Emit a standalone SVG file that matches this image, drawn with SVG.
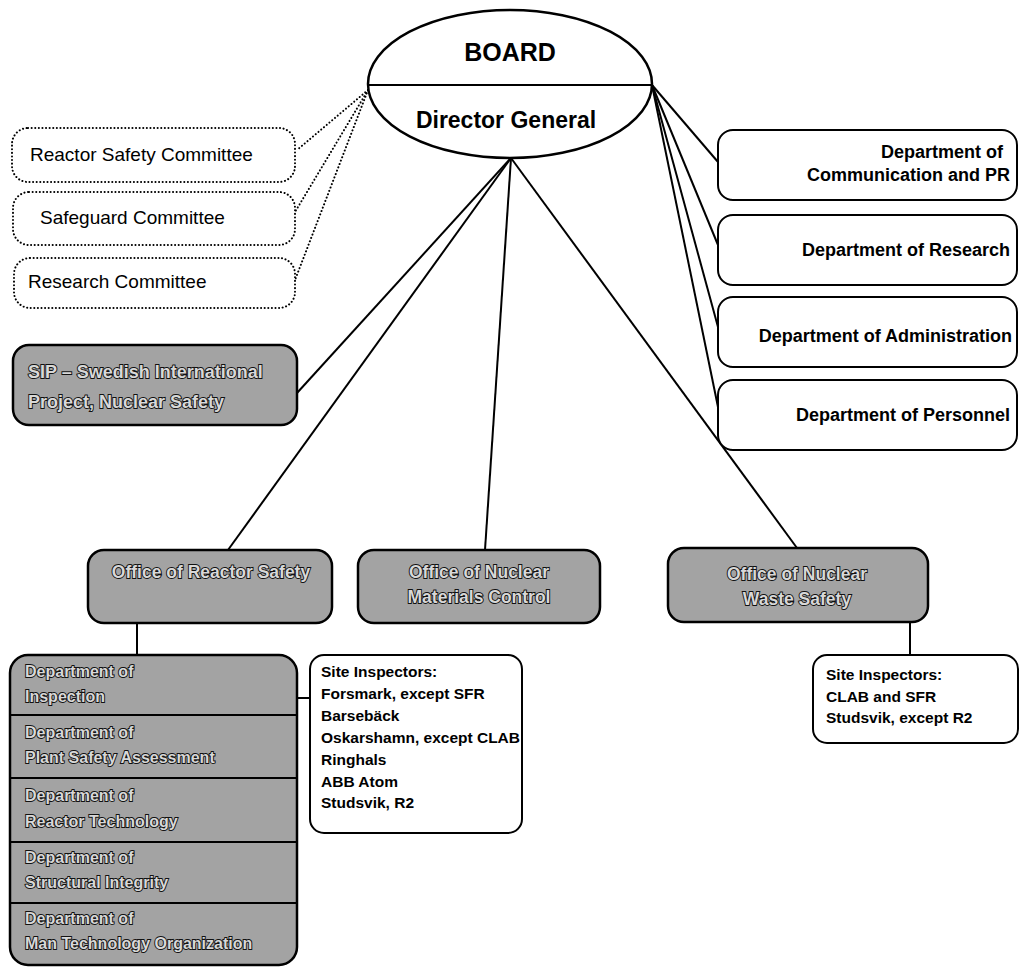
<svg xmlns="http://www.w3.org/2000/svg" width="1020" height="970" viewBox="0 0 1020 970">
<style>
.bg{fill:#ffffff}
.box{fill:#ffffff;stroke:#000;stroke-width:2}
.dot{fill:#ffffff;stroke:#000;stroke-width:2;stroke-dasharray:0.1 3.5;stroke-linecap:round}
.gray{fill:#a3a3a3;stroke:#000;stroke-width:2.5}
.ln{stroke:#000;stroke-width:2;fill:none}
.dl{stroke:#000;stroke-width:2;fill:none;stroke-dasharray:0.1 3.5;stroke-linecap:round}
.t{font-family:"Liberation Sans",Arial,sans-serif;fill:#000}
.b{font-weight:bold}
.r{font-size:19px}
.m{font-size:18px;font-weight:bold}
.s{font-size:15.5px;font-weight:bold}
.g{font-family:"Liberation Sans",Arial,sans-serif;font-weight:bold;fill:#d8d8d8;stroke:#111;stroke-width:1.8;paint-order:stroke}
</style>
<rect class="bg" x="0" y="0" width="1020" height="970"/>
<g id="connectors">
<line class="ln" x1="511" y1="158" x2="297" y2="393"/>
<line class="ln" x1="511" y1="158" x2="228" y2="550"/>
<line class="ln" x1="511" y1="158" x2="485" y2="550"/>
<line class="ln" x1="511" y1="158" x2="797" y2="548"/>
<line class="ln" x1="652" y1="85" x2="718" y2="162"/>
<line class="ln" x1="652" y1="85" x2="718" y2="245"/>
<line class="ln" x1="652" y1="85" x2="718" y2="327"/>
<line class="ln" x1="652" y1="85" x2="718" y2="407"/>
<line class="dl" x1="368" y1="90" x2="297" y2="150"/>
<line class="dl" x1="368" y1="90" x2="295" y2="212"/>
<line class="dl" x1="368" y1="90" x2="295" y2="280"/>
<line class="ln" x1="137" y1="623" x2="137" y2="655"/>
<line class="ln" x1="297" y1="698" x2="310" y2="698"/>
<line class="ln" x1="910" y1="622" x2="910" y2="655"/>
</g>
<g id="board">
<ellipse cx="510" cy="84" rx="142" ry="74" fill="#fff" stroke="#000" stroke-width="2.5"/>
<line class="ln" x1="368" y1="85" x2="652" y2="85"/>
<text class="t b" x="510" y="61" font-size="25" text-anchor="middle">BOARD</text>
<text class="t b" x="506" y="128" font-size="23" text-anchor="middle">Director General</text>
</g>
<g id="reactor-safety-committee">
<rect class="dot" x="12" y="128" width="283" height="54" rx="16"/>
<text class="t r" x="30" y="161">Reactor Safety Committee</text>
</g>
<g id="safeguard-committee">
<rect class="dot" x="13" y="192" width="282" height="53" rx="16"/>
<text class="t r" x="40" y="224">Safeguard Committee</text>
</g>
<g id="research-committee">
<rect class="dot" x="14" y="258" width="281" height="50" rx="16"/>
<text class="t r" x="28" y="288">Research Committee</text>
</g>
<g id="sip">
<rect class="gray" x="13" y="345" width="284" height="80" rx="16"/>
<text class="g" x="28" y="378" font-size="18">SIP – Swedish International</text>
<text class="g" x="28" y="408" font-size="18">Project, Nuclear Safety</text>
</g>
<g id="dept-communication">
<rect class="box" x="718" y="130" width="299" height="70" rx="15"/>
<text class="t m" x="1003" y="158" text-anchor="end">Department of</text>
<text class="t m" x="1010" y="181" text-anchor="end">Communication and PR</text>
</g>
<g id="dept-research">
<rect class="box" x="718" y="215" width="299" height="70" rx="15"/>
<text class="t m" x="1010" y="256" text-anchor="end">Department of Research</text>
</g>
<g id="dept-administration">
<rect class="box" x="718" y="297" width="299" height="70" rx="15"/>
<text class="t m" x="1012" y="342" text-anchor="end">Department of Administration</text>
</g>
<g id="dept-personnel">
<rect class="box" x="718" y="380" width="299" height="70" rx="15"/>
<text class="t m" x="1010" y="421" text-anchor="end">Department of Personnel</text>
</g>
<g id="office-reactor-safety">
<rect class="gray" x="88" y="550" width="244" height="73" rx="16"/>
<text class="g" x="211" y="578" font-size="17.5" text-anchor="middle">Office of Reactor Safety</text>
</g>
<g id="office-materials">
<rect class="gray" x="358" y="550" width="242" height="73" rx="16"/>
<text class="g" x="479" y="578" font-size="17.5" text-anchor="middle">Office of Nuclear</text>
<text class="g" x="479" y="603" font-size="17.5" text-anchor="middle">Materials Control</text>
</g>
<g id="office-waste">
<rect class="gray" x="668" y="548" width="260" height="74" rx="16"/>
<text class="g" x="797" y="580" font-size="17.5" text-anchor="middle">Office of Nuclear</text>
<text class="g" x="797" y="605" font-size="17.5" text-anchor="middle">Waste Safety</text>
</g>
<g id="reactor-departments">
<rect class="gray" x="10" y="655" width="287" height="310" rx="18"/>
<line class="ln" x1="11" y1="715" x2="296" y2="715"/>
<line class="ln" x1="11" y1="778" x2="296" y2="778"/>
<line class="ln" x1="11" y1="842" x2="296" y2="842"/>
<line class="ln" x1="11" y1="903" x2="296" y2="903"/>
<text class="g" x="25" y="677" font-size="16">Department of</text>
<text class="g" x="25" y="702" font-size="16">Inspection</text>
<text class="g" x="25" y="738" font-size="16">Department of</text>
<text class="g" x="25" y="763" font-size="16">Plant Safety Assessment</text>
<text class="g" x="25" y="801" font-size="16">Department of</text>
<text class="g" x="25" y="827" font-size="16">Reactor Technology</text>
<text class="g" x="25" y="863" font-size="16">Department of</text>
<text class="g" x="25" y="888" font-size="16">Structural Integrity</text>
<text class="g" x="25" y="924" font-size="16">Department of</text>
<text class="g" x="25" y="949" font-size="16">Man Technology Organization</text>
</g>
<g id="site-inspectors-reactor">
<rect class="box" x="310" y="655" width="212" height="178" rx="14"/>
<text class="t s" x="321" y="677">Site Inspectors:</text>
<text class="t s" x="321" y="699">Forsmark, except SFR</text>
<text class="t s" x="321" y="721">Barsebäck</text>
<text class="t s" x="321" y="743">Oskarshamn, except CLAB</text>
<text class="t s" x="321" y="765">Ringhals</text>
<text class="t s" x="321" y="787">ABB Atom</text>
<text class="t s" x="321" y="808">Studsvik, R2</text>
</g>
<g id="site-inspectors-waste">
<rect class="box" x="813" y="655" width="205" height="88" rx="14"/>
<text class="t s" x="826" y="680">Site Inspectors:</text>
<text class="t s" x="826" y="702">CLAB and SFR</text>
<text class="t s" x="826" y="723">Studsvik, except R2</text>
</g>
</svg>
